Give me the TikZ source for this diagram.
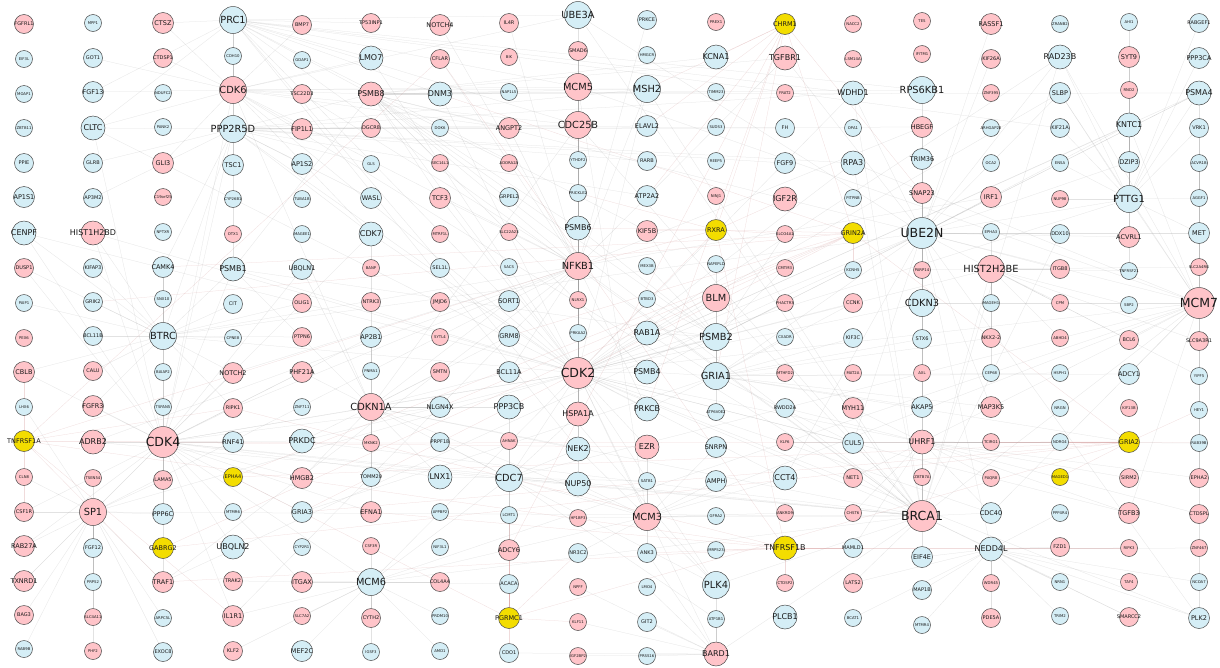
\documentclass[tikz,border=0pt]{standalone}
\usepackage{fontspec}
\setmainfont{DejaVu Sans}
\usetikzlibrary{backgrounds}
\definecolor{cUp}{HTML}{FFC4C9}
\definecolor{cDown}{HTML}{D5EEF6}
\definecolor{cHit}{HTML}{F3DD00}
\definecolor{cRim}{HTML}{4A4A4A}
\definecolor{cEdge}{HTML}{9A9A9A}
\definecolor{cEdgeR}{HTML}{D08A8A}

\begin{document}
\begin{tikzpicture}[
  x=1pt, y=-1pt,
  gene/.style={circle, draw=cRim, line width=0.5pt, inner sep=0pt,
               text=black!90},
  ga/.style={gene, minimum size=17pt, font=\fontsize{3.8}{4}\selectfont},
  gb/.style={gene, minimum size=19pt, font=\fontsize{5}{6}\selectfont},
  gc/.style={gene, minimum size=21pt, font=\fontsize{6.5}{7}\selectfont},
  gd/.style={gene, minimum size=24pt, font=\fontsize{8}{9}\selectfont},
  ge/.style={gene, minimum size=27pt, font=\fontsize{9.8}{11}\selectfont},
  gf/.style={gene, minimum size=31pt, font=\fontsize{12.5}{14}\selectfont},
  upg/.style={fill=cUp},
  dng/.style={fill=cDown},
  hitg/.style={fill=cHit},
  lnk/.style={draw=cEdge, line width=0.25pt, opacity=0.28},
  lnkr/.style={draw=cEdgeR, line width=0.25pt, opacity=0.3},
]
\useasboundingbox (0,0) rectangle (1220,667);

% ---- column 1 ----
\foreach \nm/\yy/\sz/\cl in {FGFRL1/24/b/upg, EIF3L/59/a/dng, MOAP1/94/a/dng,
  ZBTB11/128/a/dng, PPIE/163/b/dng, AP1S1/197/c/dng, CENPF/233/d/dng,
  DUSP1/268/b/upg, PAIP1/303/a/dng, PEX6/338/a/upg, CBLB/372/c/upg,
  LHX6/407/a/dng, TNFRSF1A/441/c/hitg, CLN8/477/a/upg, CSF1R/512/b/upg,
  RAB27A/546/c/upg, TXNRD1/581/c/upg, BAG3/615/b/upg, RAB9B/649/a/dng}
  \node[g\sz, \cl] (\nm) at (24,\yy) {\makebox[0pt]{\nm}};

% ---- column 2 ----
\foreach \nm/\yy/\sz/\cl in {MPP1/23/a/dng, GOT1/58/b/dng, FGF13/92/c/dng,
  CLTC/128/d/dng, GLRB/163/b/dng, AP3M2/198/b/dng, HIST1H2BD/233/d/upg,
  KIFAP3/268/b/dng, GRIK2/302/b/dng, BCL11B/336/b/dng, CALU/371/b/upg,
  FGFR3/406/c/upg, ADRB2/442/d/upg, TSEN54/478/a/upg, SP1/512/e/upg,
  FGF12/548/b/dng, PRPS2/582/a/dng, SLC4A11/617/a/upg, PHF2/651/a/upg}
  \node[g\sz, \cl] (\nm) at (93,\yy) {\makebox[0pt]{\nm}};

% ---- column 3 ----
\foreach \nm/\yy/\sz/\cl in {CTSZ/23/c/upg, CTDSP1/58/b/upg, NDUFC2/93/a/dng,
  PANK2/127/a/dng, GLI3/163/c/upg, C19orf25/197/a/upg, NPTXR/232/a/dng,
  CAMK4/267/c/dng, SNX10/299/a/dng, BTRC/336/e/dng, BAIAP2/372/a/dng,
  TSPAN5/407/a/dng, CDK4/442/f/upg, LAMA5/480/b/upg, PPP6C/514/c/dng,
  GABRG2/548/c/hitg, TRAF1/582/c/upg, ARPC5L/618/a/dng, EXOC8/652/b/dng}
  \node[g\sz, \cl] (\nm) at (163,\yy) {\makebox[0pt]{\nm}};

% ---- column 4 ----
\foreach \nm/\yy/\sz/\cl in {PRC1/20/e/dng, CDH10/56/a/dng, CDK6/90/e/upg,
  PPP2R5D/129/e/dng, TSC1/165/c/dng, CYP26B1/199/a/dng, OTX1/234/a/upg,
  PSMB1/269/d/dng, CIT/304/b/dng, CPNE8/338/a/dng, NOTCH2/373/c/upg,
  RIPK1/408/b/upg, RNF41/442/c/dng, EPHA4/477/b/hitg, MTMR6/512/a/dng,
  UBQLN2/547/d/dng, TRAK2/581/b/upg, IL1R1/616/c/upg, KLF2/651/b/upg}
  \node[g\sz, \cl] (\nm) at (233,\yy) {\makebox[0pt]{\nm}};

% ---- column 5 ----
\foreach \nm/\yy/\sz/\cl in {BMP7/25/b/upg, GDAP1/60/a/dng, TSC22D3/94/b/upg,
  FIP1L1/129/c/upg, AP1S2/164/c/dng, TUBA1B/199/a/dng, MAGEE1/234/a/dng,
  UBQLN1/269/c/dng, OLIG1/303/b/upg, PTPN6/337/b/upg, PHF21A/372/c/upg,
  ZNF711/407/a/dng, PRKDC/441/d/dng, HMGB2/478/c/upg, GRIA3/512/c/dng,
  CYP2R1/547/a/dng, ITGAX/582/c/upg, SLC7A2/616/a/upg, MEF2C/651/c/dng}
  \node[g\sz, \cl] (\nm) at (302,\yy) {\makebox[0pt]{\nm}};

% ---- column 6 ----
\foreach \nm/\yy/\sz/\cl in {TP53INP1/23/b/upg, LMO7/58/d/dng, PSMB8/94/d/upg,
  DGCR8/128/b/upg, GLS/164/a/dng, WASL/198/c/dng, CDK7/234/d/dng,
  BANP/268/a/upg, NTRK3/302/b/upg, AP2B1/337/c/dng, PNMA1/371/a/dng,
  CDKN1A/407/e/upg, MKNK2/443/a/upg, TOMM20/477/b/dng, EFNA1/512/c/upg,
  CSF3R/546/a/upg, MCM6/582/e/dng, CYTH2/618/b/upg, IGSF3/652/a/dng}
  \node[g\sz, \cl] (\nm) at (371,\yy) {\makebox[0pt]{\nm}};

% ---- column 7 ----
\foreach \nm/\yy/\sz/\cl in {NOTCH4/25/c/upg, CFLAR/59/b/upg, DNM3/94/d/dng,
  DOK6/128/a/dng, SEC14L1/163/a/upg, TCF3/198/c/upg, MTRF1L/234/a/upg,
  SEL1L/268/b/dng, JMJD6/302/b/upg, SYTL4/337/a/upg, SMTN/372/b/upg,
  NLGN4X/407/c/dng, PRPF18/442/b/dng, LNX1/477/d/dng, APPBP2/512/a/dng,
  NIF3L1/547/a/dng, COL4A4/582/b/upg, PRDM10/616/a/dng, AMD1/651/a/dng}
  \node[g\sz, \cl] (\nm) at (440,\yy) {\makebox[0pt]{\nm}};

% ---- column 8 ----
\foreach \nm/\yy/\sz/\cl in {IL4R/23/b/upg, BIK/57/a/upg, NAP1L5/92/a/dng,
  ANGPT2/128/c/upg, ADORA2A/163/a/upg, GRPEL2/197/b/dng, SLC22A23/232/a/upg,
  SACS/267/a/dng, SORT1/301/c/dng, GRM8/336/c/dng, BCL11A/372/c/dng,
  PPP3CB/407/d/dng, AHNAK/441/a/upg, CDC7/478/e/dng, LCMT1/515/a/dng,
  ADCY6/550/c/upg, ACACA/584/b/dng, PGRMC1/618/c/hitg, CDO1/653/b/dng}
  \node[g\sz, \cl] (\nm) at (509,\yy) {\makebox[0pt]{\nm}};

% ---- column 9 ----
\foreach \nm/\yy/\sz/\cl in {UBE3A/15/e/dng, SMAD6/51/b/upg, MCM5/87/e/upg,
  CDC25B/125/e/upg, YTHDF2/160/a/dng, PRICKLE2/193/a/dng, PSMB6/228/d/dng,
  NFKB1/266/e/upg, NLRX1/300/a/upg, PRKAA2/333/a/dng, CDK2/373/f/upg,
  HSPA1A/414/d/upg, NEK2/449/d/dng, NUP50/484/d/dng, HP1BP3/518/a/upg,
  NR3C2/553/b/dng, NPFF/587/a/upg, KLF11/622/a/upg, IGF2BP2/656/a/upg}
  \node[g\sz, \cl] (\nm) at (578,\yy) {\makebox[0pt]{\nm}};

% ---- column 10 ----
\foreach \nm/\yy/\sz/\cl in {PRKCE/20/b/dng, HMGCR/55/a/dng, MSH2/89/e/dng,
  ELAVL2/126/c/dng, RARB/161/b/dng, ATP2A2/196/c/dng, KIF5B/231/c/upg,
  MEX3B/266/a/dng, BTBD3/299/a/dng, RAB1A/333/d/dng, PSMB4/372/d/dng,
  PRKCB/409/d/dng, EZR/447/d/upg, SATB1/481/a/dng, MCM3/517/e/upg,
  ANK3/553/b/dng, LMO4/587/a/dng, GIT2/622/b/dng, PRSS16/656/a/dng}
  \node[g\sz, \cl] (\nm) at (647,\yy) {\makebox[0pt]{\nm}};

% ---- column 11 ----
\foreach \nm/\yy/\sz/\cl in {PREX1/22/a/upg, KCNA1/57/d/dng, TIMM23/92/a/dng,
  SUDS3/127/a/dng, REEP5/161/a/dng, NINJ1/196/a/upg, RXRA/230/c/hitg,
  NAPEPLD/264/a/dng, BLM/298/e/upg, PSMB2/337/e/dng, GRIA1/376/e/dng,
  ATP6V0E2/412/a/dng, SNRPN/447/c/dng, AMPH/481/c/dng, GFRA2/516/a/dng,
  MRPS23/550/a/dng, PLK4/585/e/dng, ATP1B1/619/a/dng, BARD1/654/d/upg}
  \node[g\sz, \cl] (\nm) at (716,\yy) {\makebox[0pt]{\nm}};

% ---- column 12 ----
\foreach \nm/\yy/\sz/\cl in {CHRM1/24/c/hitg, TGFBR1/58/d/upg, FRAT2/93/a/upg,
  FH/128/b/dng, FGF9/163/c/dng, IGF2R/199/d/upg, SLCO4A1/234/a/upg,
  CMTM3/268/a/upg, PHACTR3/303/a/upg, CXADR/337/a/dng, MTHFD2/373/a/upg,
  RWDD2A/408/b/dng, KLF6/442/a/upg, CCT4/478/d/dng, ANKRD9/513/a/upg,
  TNFRSF1B/548/d/hitg, CTDSP2/583/a/upg, PLCB1/617/d/dng}
  \node[g\sz, \cl] (\nm) at (785,\yy) {\makebox[0pt]{\nm}};

% ---- column 13 ----
\foreach \nm/\yy/\sz/\cl in {NACC2/24/a/upg, LSM14A/59/a/upg, WDHD1/93/d/dng,
  OPA1/128/a/dng, RPA3/163/d/dng, PITPNB/198/a/dng, GRIN2A/233/c/hitg,
  KCNH5/270/a/dng, CCNK/303/b/upg, KIF3C/338/b/dng, MAT2A/373/a/upg,
  MYH11/408/c/upg, CUL5/443/c/dng, NET1/478/b/upg, CHST6/513/a/upg,
  MAMLD1/548/b/dng, LATS2/583/b/upg, BCAT1/618/a/dng}
  \node[g\sz, \cl] (\nm) at (853,\yy) {\makebox[0pt]{\nm}};

% ---- column 14 ----
\foreach \nm/\yy/\sz/\cl in {TES/21/a/upg, IFITM1/54/a/upg, RPS6KB1/90/e/dng,
  HBEGF/127/c/upg, TRIM36/159/c/dng, SNAP23/193/c/upg, UBE2N/233/f/dng,
  PARP14/270/a/upg, CDKN3/303/e/dng, STX6/339/b/dng, AXL/373/a/upg,
  AKAP5/407/c/dng, UHRF1/442/d/upg, ZBTB7A/477/a/upg, BRCA1/516/f/upg,
  EIF4E/557/c/dng, MAP1B/590/b/dng, MTMR4/625/a/dng}
  \node[g\sz, \cl] (\nm) at (922,\yy) {\makebox[0pt]{\nm}};

% ---- column 15 ----
\foreach \nm/\yy/\sz/\cl in {RASSF1/24/c/upg, KIF26A/59/b/upg, ZNF395/93/a/upg,
  ARHGAP20/128/a/dng, OCA2/163/a/dng, IRF1/197/c/upg, EPHA3/232/a/dng,
  HIST2H2BE/269/e/upg, MAGEH1/303/a/dng, NKX2-2/338/b/upg, CEP68/373/a/dng,
  MAP3K5/407/c/upg, TCIRG1/442/a/upg, PAQR8/478/a/upg, CDC40/513/c/dng,
  NEDD4L/549/d/dng, WDR45/583/a/upg, PDE5A/618/b/upg}
  \node[g\sz, \cl] (\nm) at (991,\yy) {\makebox[0pt]{\nm}};

% ---- column 16 ----
\foreach \nm/\yy/\sz/\cl in {ZRANB2/24/a/dng, RAD23B/57/d/dng, SLBP/93/c/dng,
  KIF21A/128/b/dng, ENSA/163/a/dng, NUP98/199/a/upg, DDX10/234/b/dng,
  ITGB8/269/b/upg, CPM/303/a/upg, ABHD4/338/a/upg, HSPH1/373/a/dng,
  NRGN/408/a/dng, NDRG4/442/a/dng, MAGED1/477/a/hitg, PPP4R4/513/a/dng,
  FZD1/547/b/upg, NRN1/582/a/dng, TRIM2/616/a/dng}
  \node[g\sz, \cl] (\nm) at (1060,\yy) {\makebox[0pt]{\nm}};

% ---- column 17 ----
\foreach \nm/\yy/\sz/\cl in {AHI1/22/a/dng, SYT9/57/c/upg, RND2/90/a/upg,
  KNTC1/125/d/dng, DZIP3/162/c/dng, PTTG1/199/e/dng, ACVRL1/237/c/upg,
  TNFRSF21/271/a/dng, SBP2/305/a/dng, BCL6/340/b/upg, ADCY1/374/c/dng,
  KIF13B/408/a/upg, GRIA2/442/c/hitg, SIRM2/478/b/upg, TGFB3/513/c/upg,
  RIPK3/548/a/upg, TAF4/582/a/upg, SMARCC2/617/b/upg}
  \node[g\sz, \cl] (\nm) at (1129,\yy) {\makebox[0pt]{\nm}};

% ---- column 18 ----
\foreach \nm/\yy/\sz/\cl in {RABGEF1/23/b/dng, PPP3CA/58/c/dng, PSMA4/93/d/dng,
  VRK1/128/b/dng, ACVR1B/163/a/dng, AGGF1/198/a/dng, MET/233/c/dng,
  SLC2A4RG/267/a/upg, MCM7/303/f/upg, SLC9A3R1/341/b/upg, YIPF5/376/a/dng,
  HEY1/410/a/dng, RAB39B/443/a/dng, EPHA2/478/b/upg, CTDSPL/514/b/upg,
  ZNF467/548/a/upg, NCOA7/582/a/dng, PLK2/618/c/dng}
  \node[g\sz, \cl] (\nm) at (1199,\yy) {\makebox[0pt]{\nm}};

% ---- interactions ----
\begin{scope}[on background layer]
  \fill[white] (0,0) rectangle (1220,667);
  \foreach \nb in {CDKN1A,CDK4,CDK6,CDK7,CDC25B,MCM3,MCM5,MCM6,MCM7,BRCA1,
    PTTG1,UBE2N,PRC1,CDC7,NEK2,PLK4,BTRC,NFKB1,HSPA1A,BLM,UHRF1,RPA3,WDHD1,
    PSMB2,PSMB4,PSMB6,PSMB8,PSMB1,PSMA4,CDKN3,TGFB3,SP1,MSH2,RAD23B,CCNK,
    CUL5,UBE3A,PRKDC,BARD1,NUP50,SLBP,KNTC1,CENPF,CDC40,TCF3,PRKCB,EZR,CCT4,
    HIST2H2BE,HIST1H2BD,PLK2,CLTC,SMAD6,PPP2R5D,LMO7,DNM3}
    \draw[lnk] (CDK2) -- (\nb);
  \foreach \nb in {BARD1,BLM,RPA3,MSH2,UHRF1,CDKN1A,CDK4,UBE2N,RAD23B,NFKB1,
    SP1,MCM7,WDHD1,CDC25B,UBE3A,NEDD4L,EIF4E,HIST2H2BE,PRKDC,CUL5,ADRB2,CDK6,
    PLK4,PRC1,MCM3,ZBTB7A,SMARCC2,LATS2,CDC40,DDX10,MCM6,CDC7,PSMB8}
    \draw[lnk] (BRCA1) -- (\nb);
  \foreach \nb in {CDK6,CDKN1A,CDK7,PSMB1,SP1,ADRB2,RNF41,PRKDC,NOTCH2,CBLB,
    CSF1R,FGFR3,LAMA5,PPP6C,UBQLN2,HMGB2,MCM6,CDC7,PPP2R5D,CLTC,CENPF,BTRC,
    GRIA3,ITGAX,TRAF1,RIPK1,EFNA1,CAMK4,HIST1H2BD,DUSP1,RAB27A,TXNRD1,IL1R1,
    UBQLN1,PHF21A,AP2B1,NLGN4X,LNX1}
    \draw[lnk] (CDK4) -- (\nb);
  \foreach \nb in {UBE3A,UHRF1,BTRC,CDKN3,MCM7,PTTG1,RPS6KB1,TRIM36,KNTC1,
    PSMA4,DZIP3,RAD23B,HIST2H2BE,CUL5,TRAF1,NEDD4L,IRF1,SNAP23,HBEGF,WDHD1,
    SLBP,MET,ACVRL1,PLK2,TGFBR1,IGF2R,RASSF1,KIF26A,PSMB2,GRIA1,CCT4,MAP3K5,
    AKAP5,ITGB8,DDX10}
    \draw[lnk] (UBE2N) -- (\nb);
  \foreach \nb in {MCM3,MCM5,MCM6,CDC7,PTTG1,SLBP,VRK1,RAD23B,PLK2,KNTC1,
    CDKN3,UHRF1,PSMA4,TGFB3,EPHA2,ADCY1,CDC40,ACVR1B,RPA3,BCL6}
    \draw[lnk] (MCM7) -- (\nb);
  \foreach \nb in {TRAF1,RIPK1,BTRC,PRKCB,PRKCE,IL4R,CFLAR,NOTCH4,NOTCH2,
    IL1R1,HSPA1A,SP1,PSMB8,PSMB6,ADRB2,TCF3,TGFBR1,ANGPT2,MSH2,IRF1,HBEGF,
    SMAD6,CDK6,TSC22D3,BCL11A}
    \draw[lnk] (NFKB1) -- (\nb);
  \foreach \nb in {CDK6,PPP2R5D,CTSZ,PSMB8,LMO7,DNM3,UBE3A,MCM5,KIF5B,CDC25B,
    PLK4,NEK2,KIF21A,RPS6KB1,WDHD1,CLTC,FGF13,TP53INP1}
    \draw[lnk] (PRC1) -- (\nb);
  \foreach \nb in {CDKN1A,CDK7,PSMB8,CTSZ,CTDSP1,GLI3,FIP1L1,TSC22D3,BMP7,
    CDC25B,PPP2R5D,LMO7,CLTC,GOT1,FGF13,MCM5,UBE3A,MSH2,ANGPT2,CDH10}
    \draw[lnk] (CDK6) -- (\nb);
  \foreach \nb in {PSMB8,DGCR8,TSC1,AP1S2,GLS,WASL,CDK7,PSMB1,CAMK4,BTRC,CLTC,
    GLRB,AP3M2,MSH2,CDC25B,ELAVL2,ATP2A2,RARB,FH,FGF9,RPA3,WDHD1,HBEGF}
    \draw[lnk] (PPP2R5D) -- (\nb);
  \foreach \nb in {PSMB1,PSMB2,PSMB4,PSMB6,PSMA4,DNM3,TCF3,SEC14L1,ANGPT2,
    ADORA2A,NAP1L5,KCNA1,MSH2,TIMM23,RPS6KB1,IGF2R,TGFBR1}
    \draw[lnk] (PSMB8) -- (\nb);
  \foreach \nb in {CDK7,AP2B1,PSMB1,CDC25B,MCM3,NEK2,UBQLN1,PHF21A,PRKDC,
    TOMM20,EFNA1,MKNK2,HMGB2,NLGN4X,SMTN,SORT1,GRM8,BCL11A,PPP3CB,CDC7,LNX1}
    \draw[lnk] (CDKN1A) -- (\nb);
  \foreach \nb in {MCM5,MCM6,CDC7,NUP50,NEK2,PLK4,SATB1,ANK3,GFRA2,AMPH,SNRPN,
    EZR,HP1BP3,NR3C2,CCT4,ANKRD9}
    \draw[lnk] (MCM3) -- (\nb);
  \foreach \nb in {GRIA2,GRIA3,PRKCB,PSMB2,PSMB4,RAB1A,BLM,CXADR,MTHFD2,
    CCNK,KIF3C,CUL5,STX6,AKAP5,NKX2-2,MAP3K5,HSPH1,ADCY1}
    \draw[lnk] (GRIA1) -- (\nb);
  \foreach \nb in {CAMK4,PSMB1,CIT,CPNE8,NOTCH2,GRIK2,BCL11B,CALU,FGFR3,KIFAP3,
    PAIP1,CBLB,DUSP1,CENPF,HIST1H2BD,RIPK1,PTPN6,OLIG1,SNX10}
    \draw[lnk] (BTRC) -- (\nb);
  \foreach \nb in {KNTC1,DZIP3,SYT9,RND2,AHI1,RABGEF1,PPP3CA,PSMA4,SLBP,ENSA,
    NUP98,AGGF1,VRK1,KIF21A,RAD23B,ACVRL1,MET,TNFRSF21}
    \draw[lnk] (PTTG1) -- (\nb);
  \foreach \nb in {NEK2,NUP50,LCMT1,ADCY6,PPP3CB,AHNAK,PRPF18,LNX1,PLK4,ATP1B1,
    MCM6,SATB1,HSPA1A}
    \draw[lnk] (CDC7) -- (\nb);
  \foreach \nb in {PLK4,ATP1B1,GIT2,PRSS16,IGF2BP2,KLF11,CDO1,ANK3,LMO4,NPFF}
    \draw[lnk] (BARD1) -- (\nb);
  \foreach \nb in {ITGAX,CYTH2,IGSF3,CSF3R,SLC7A2,MEF2C,PRDM10,AMD1,COL4A4,
    ACACA,KLF2,IL1R1,TRAK2}
    \draw[lnk] (MCM6) -- (\nb);
  \foreach \nb in {TSEN54,CLN8,CSF1R,RAB27A,FGF12,PRPS2,SLC4A11,PHF2,LAMA5,
    PPP6C,TXNRD1,BAG3,RAB9B,TRAF1,ARPC5L,EXOC8,LHX6}
    \draw[lnk] (SP1) -- (\nb);
  \foreach \nb in {ZBTB7A,NET1,CHST6,MAMLD1,PAQR8,CDC40,TCIRG1,NDRG4,RWDD2A,
    KLF6,MYH11,CUL5,TGFB3,SIRM2,EPHA2,CTDSPL,RAB39B}
    \draw[lnk] (UHRF1) -- (\nb);
  \foreach \nb in {MAGEH1,NKX2-2,EPHA3,ITGB8,CPM,ABHD4,SBP2,BCL6,SLC2A4RG,
    SLC9A3R1,CEP68,PARP14,TNFRSF21,YIPF5}
    \draw[lnk] (HIST2H2BE) -- (\nb);
  \foreach \nb in {PSMB4,PSMB6,PSMB1,PSMA4,NAPEPLD,BTBD3,MEX3B,RAB1A,PHACTR3,
    CMTM3,SLCO4A1,KIF5B,ATP6V0E2}
    \draw[lnk] (PSMB2) -- (\nb);
  \foreach \nb in {EIF4E,MAP1B,MTMR4,LATS2,BCAT1,WDR45,PDE5A,FZD1,NRN1,TRIM2,
    RIPK3,TAF4,ZNF467,NCOA7,PPP4R4,SMARCC2,PLK2}
    \draw[lnk] (NEDD4L) -- (\nb);
  % reddish links
  \foreach \nb in {MSH2,GRIA1,GRIN2A,KCNA1,ELAVL2,ATP2A2,PRKCB,ADCY6,SNAP23}
    \draw[lnkr] (CHRM1) -- (\nb);
  \foreach \nb in {NFKB1,PSMB6,PRICKLE2,KIF5B,IGF2R,SLCO4A1,GRIN2A,TNFRSF1B,
    CDK2,CHRM1}
    \draw[lnkr] (RXRA) -- (\nb);
  \foreach \nb in {GRIA2,GRIA3,KCNH5,GABRG2,EPHA4,GRM8,NLGN4X,CAMK4,GRIK2,DNM3}
    \draw[lnkr] (GRIN2A) -- (\nb);
  \foreach \nb in {GRIA3,EPHA4,MAGED1,NDRG4,TCIRG1,HEY1,RAB39B,GABRG2,PGRMC1,
    MKNK2}
    \draw[lnkr] (GRIA2) -- (\nb);
  \foreach \nb in {TNFRSF1B,TRAF1,RIPK1,CFLAR,NFKB1,IL1R1,CSF1R,CBLB,MKNK2,EZR}
    \draw[lnkr] (TNFRSF1A) -- (\nb);
  \foreach \nb in {TRAF1,RIPK1,CFLAR,CTDSP2,MRPS23,ANK3,EFNA1,MAMLD1,RIPK3}
    \draw[lnkr] (TNFRSF1B) -- (\nb);
  \foreach \nb in {ACACA,ADCY6,CDO1,KLF11,NR3C2,LCMT1,EPHA4}
    \draw[lnkr] (PGRMC1) -- (\nb);
\end{scope}

\end{tikzpicture}
\end{document}
